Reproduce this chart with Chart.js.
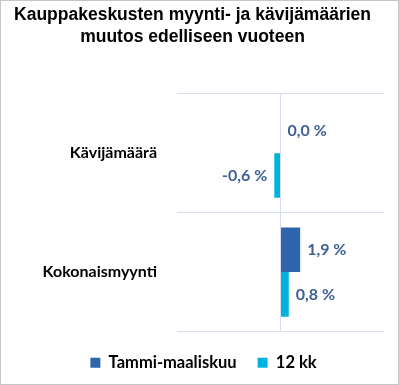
<!DOCTYPE html>
<html>
<head>
<meta charset="utf-8">
<script src="https://cdn.jsdelivr.net/npm/chart.js@4"></script>
<style>
  html, body { margin: 0; padding: 0; background: #fff; }
  #wrap { width: 399px; height: 385px; box-sizing: border-box; border: 1px solid #c6c6c6; position: relative; }
</style>
</head>
<body>
<div id="wrap"><canvas id="chart"></canvas></div>
<script>
// kategoriat ja sarjat
const categories = ['Kävijämäärä', 'Kokonaismyynti'];
const seriesNames = ['Tammi-maaliskuu', '12 kk'];
const tammiMaaliskuu = [0.0, 1.9];
const kk12 = [-0.6, 0.8];

const labelColor = '#3e6096';

// arvotekstit palkkien päähän
const valueLabels = {
  id: 'valueLabels',
  afterDatasetsDraw(chart) {
    const ctx = chart.ctx;
    ctx.save();
    ctx.font = 'bold 16px Lato, "Open Sans", sans-serif';
    ctx.fillStyle = labelColor;
    ctx.textBaseline = 'middle';
    chart.data.datasets.forEach((ds, i) => {
      const meta = chart.getDatasetMeta(i);
      meta.data.forEach((bar, j) => {
        const v = ds.data[j];
        const txt = v.toFixed(1).replace('.', ',') + ' %';
        if (v >= 0) {
          ctx.textAlign = 'left';
          ctx.fillText(txt, bar.x + 7, bar.y);
        } else {
          ctx.textAlign = 'right';
          ctx.fillText(txt, bar.x - 7, bar.y);
        }
      });
    });
    ctx.restore();
  }
};

// selite keskelle koko kuvaa, ei vain piirtoalueen kohdalle
const legendShift = {
  id: 'legendShift',
  afterLayout(chart) {
    chart.legend.left += 11;
    chart.legend.right += 11;
  }
};

new Chart(document.getElementById('chart'), {
  type: 'bar',
  data: {
    labels: categories,
    datasets: [
      { label: seriesNames[0], data: tammiMaaliskuu, backgroundColor: '#2e65ad' },
      { label: seriesNames[1], data: kk12, backgroundColor: '#00b3de' }
    ]
  },
  options: {
    indexAxis: 'y',
    responsive: true,
    maintainAspectRatio: false,
    animation: false,
    layout: { padding: { left: 0, right: 14, bottom: 3 } },
    datasets: {
      bar: { categoryPercentage: 0.75, barPercentage: 1.0 }
    },
    scales: {
      x: {
        min: -10,
        max: 10,
        afterFit(scale) { scale.height = 2; },
        ticks: { display: false, stepSize: 10 },
        border: { display: false },
        grid: {
          drawTicks: false,
          color: (c) => (c.tick && c.tick.value === 0 ? '#d5deea' : 'rgba(0,0,0,0)')
        }
      },
      y: {
        afterFit(scale) { scale.width = 176; },
        border: { display: false },
        grid: { drawTicks: false, color: '#d5deea' },
        ticks: {
          padding: 20,
          color: '#000',
          font: { family: 'Lato, "Open Sans", sans-serif', size: 16, weight: 'bold' }
        }
      }
    },
    plugins: {
      title: {
        display: true,
        text: ['Kauppakeskusten myynti- ja kävijämäärien', 'muutos edelliseen vuoteen'],
        color: '#000',
        font: { family: '"Liberation Sans", Arial, sans-serif', size: 17.5, weight: 'bold', lineHeight: 1.28 },
        padding: { top: 3, bottom: 45 }
      },
      legend: {
        position: 'bottom',
        labels: {
          boxWidth: 10,
          boxHeight: 10,
          padding: 21,
          color: '#000',
          font: { family: 'Lato, "Open Sans", sans-serif', size: 16.5, weight: 'bold' }
        }
      },
      tooltip: { enabled: false }
    }
  },
  plugins: [valueLabels, legendShift]
});
</script>
</body>
</html>
